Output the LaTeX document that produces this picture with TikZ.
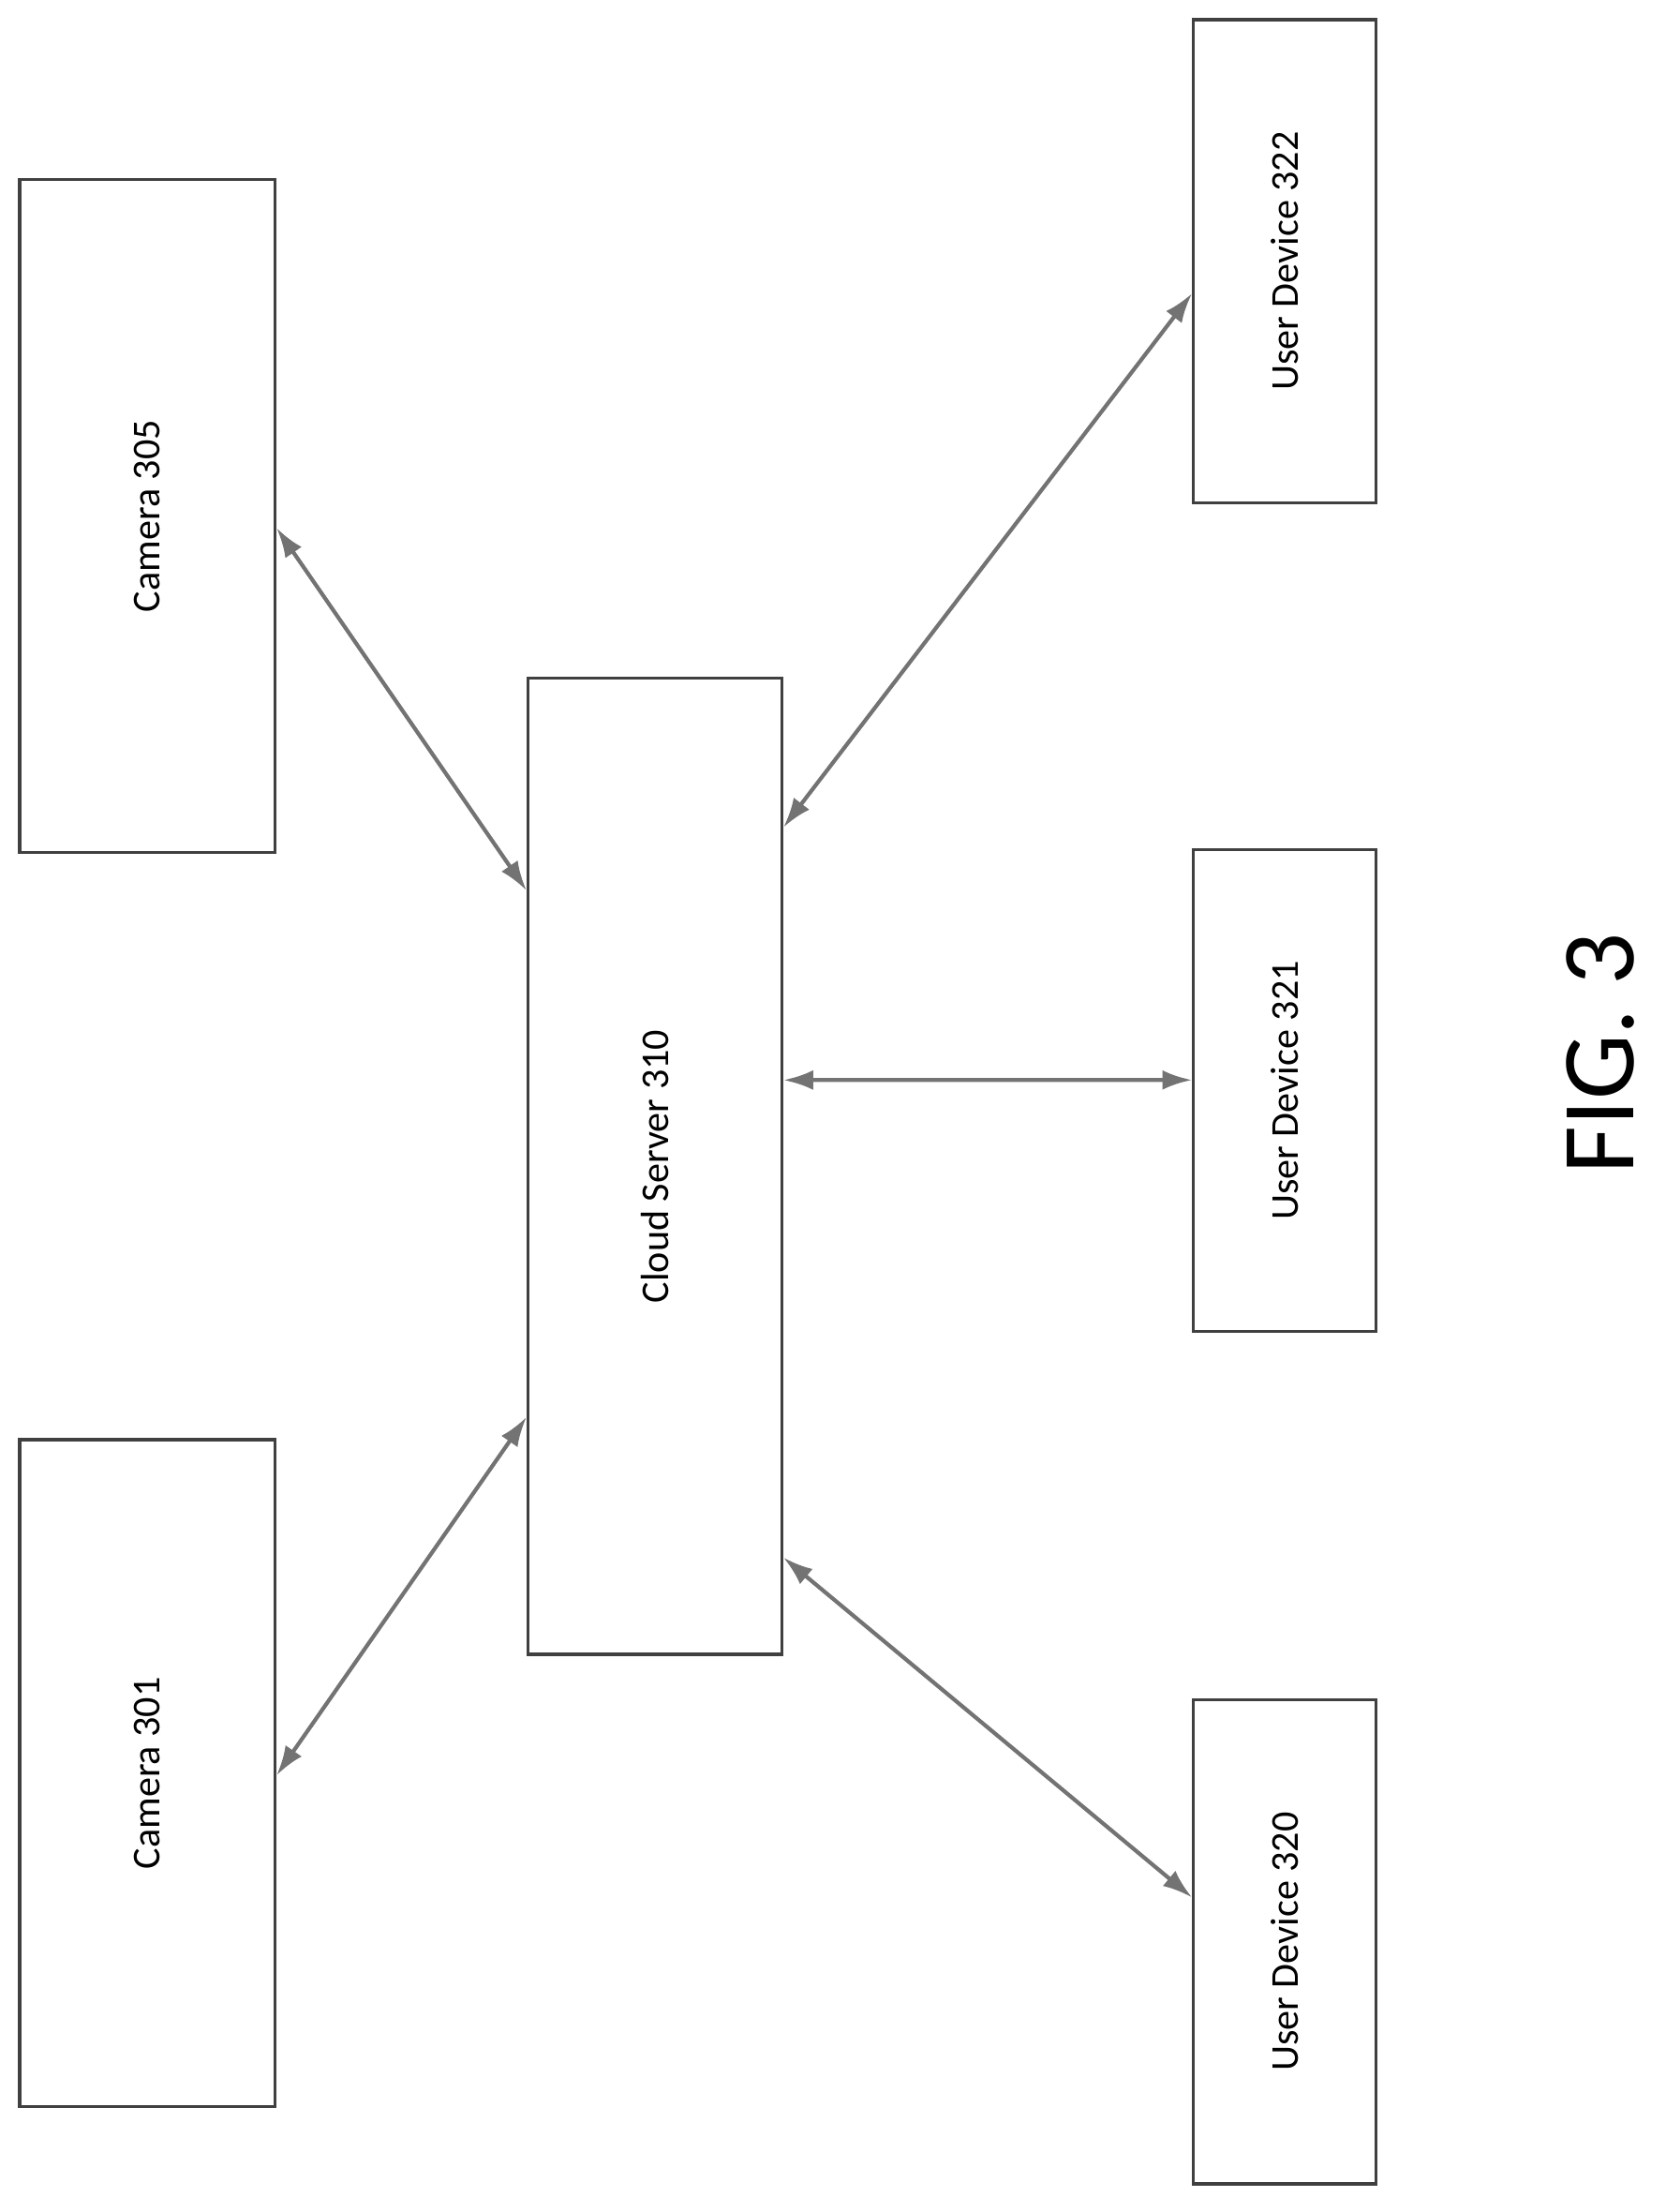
\documentclass[tikz,border=0pt]{standalone}
\usepackage{fontspec}
\setmainfont{Carlito}
\usetikzlibrary{calc,arrows.meta}
\begin{document}
\begin{tikzpicture}[x=0.02cm,y=-0.02cm,
    box/.style={draw=black!75,line width=1.2pt,inner sep=0pt},
    lbl/.style={rotate=90,font=\fontsize{16}{18}\selectfont},
    link/.style={draw=black!55,line width=1.6pt,{Latex[length=12pt,width=8pt]}-{Latex[length=12pt,width=8pt]}}]
                \useasboundingbox (0,0) rectangle (1186,1575);
                % boxes
                \node[box,minimum width=3.64cm,minimum height=9.58cm] (cam305) at (105,367.5) {};
                \node[box,minimum width=3.64cm,minimum height=9.5cm] (cam301) at (105,1262.5) {};
                \node[box,minimum width=3.62cm,minimum height=13.9cm] (cloud) at (466.5,830.5) {};
                \node[box,minimum width=2.6cm,minimum height=6.88cm] (ud322) at (915,186) {};
                \node[box,minimum width=2.6cm,minimum height=6.86cm] (ud321) at (915,776.5) {};
                \node[box,minimum width=2.6cm,minimum height=6.9cm] (ud320) at (915,1382.5) {};
                % labels
                \node[lbl] (t305) at (cam305) {Camera 305};
                \node[lbl] (t301) at (cam301) {Camera 301};
                \node[lbl] (t310) at (cloud) {Cloud Server 310};
                \node[lbl] (t322) at (ud322) {User Device 322};
                \node[lbl] (t321) at (ud321) {User Device 321};
                \node[lbl] (t320) at (ud320) {User Device 320};
                \node[rotate=90,font=\fontsize{42}{46}\selectfont] (fig) at (1140,750) {FIG. 3};
                % links
                \draw[link] ($(cam305.north east)+(0,249)$) -- ($(cloud.north west)+(0,152)$);
                \draw[link] ($(cloud.north east)+(0,107)$) -- ($(ud322.north west)+(0,196)$);
                \draw[link] ($(cloud.north east)+(0,287)$) -- ($(ud321.north west)+(0,165)$);
                \draw[link] ($(cloud.north west)+(0,527)$) -- ($(cam301.north east)+(0,240)$);
                \draw[link] ($(cloud.north east)+(0,627)$) -- ($(ud320.north west)+(0,142)$);
\end{tikzpicture}
\end{document}
